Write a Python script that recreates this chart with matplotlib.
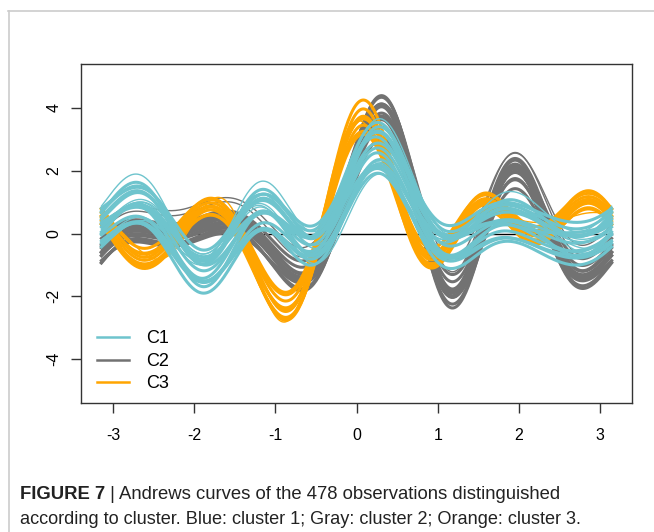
#!/usr/bin/env python3
"""
Andrews curves of the observations, coloured by cluster (Figure 7).
"""

import numpy as np
import matplotlib
matplotlib.use("Agg")
import matplotlib.pyplot as plt
from matplotlib.lines import Line2D

c1_obs = [
    [0.46, 0.22, 0.53, 0.22, 0.63, 0.09, 0.15, 0.80, 0.15, 0.19, 0.22],
    [-0.20, 0.20, 0.50, 0.20, 0.60, 0.08, 0.14, 0.70, 0.14, 0.18, 0.20],
    [0.95, 0.24, 0.56, 0.24, 0.66, 0.10, 0.16, 0.90, 0.16, 0.20, 0.24],
    [0.15, 0.18, 0.45, 0.18, 0.52, 0.07, 0.12, 0.95, 0.12, 0.16, 0.18],
    [0.70, 0.26, 0.62, 0.26, 0.74, 0.11, 0.18, 0.65, 0.18, 0.22, 0.26],
    [-0.45, 0.21, 0.55, 0.22, 0.66, 0.09, 0.15, 0.85, 0.15, 0.19, 0.22],
    [1.30, 0.23, 0.50, 0.21, 0.60, 0.09, 0.15, 0.75, 0.15, 0.19, 0.22],
    [0.55, 0.16, 0.40, 0.16, 0.47, 0.07, 0.11, 0.60, 0.11, 0.14, 0.16],
    [0.30, 0.28, 0.68, 0.28, 0.80, 0.12, 0.19, 1.00, 0.19, 0.24, 0.28],
    [0.05, 0.24, 0.58, 0.20, 0.70, 0.10, 0.17, 0.78, 0.17, 0.21, 0.20],
    [0.85, 0.20, 0.48, 0.24, 0.57, 0.08, 0.13, 0.82, 0.13, 0.17, 0.24],
    [1.10, 0.22, 0.53, 0.22, 0.63, 0.09, 0.15, 1.05, 0.15, 0.19, 0.22],
    [-0.30, 0.19, 0.47, 0.19, 0.56, 0.08, 0.13, 0.72, 0.13, 0.17, 0.19],
    [1.20, 0.25, 0.60, 0.25, 0.71, 0.10, 0.17, 0.88, 0.17, 0.21, 0.25],
]
c1_odd = [
    [0.46, 0.22, 0.11, 0.22, 0.13, 0.09, 0.15, 0.80, 0.15, 0.19, 0.22],
    [0.60, 0.22, 0.19, 0.22, 0.22, 0.09, 0.15, 0.80, 0.15, 0.19, 0.22],
    [0.50, 0.22, 0.27, 0.22, 0.32, 0.09, 0.15, 0.80, 0.15, 0.19, 0.22],
    [0.46, 0.22, 0.53, 0.02, 0.23, 0.09, 0.15, 0.80, 0.15, 0.19, 0.22],
    [0.46, 0.22, 0.53, 0.02, 0.03, 0.09, 0.15, 0.80, 0.15, 0.19, 0.22],
    [1.40, 0.22, 0.53, 0.22, 0.63, 0.09, 0.15, 1.10, 0.15, 0.19, 0.22],
]
c2_obs = [
    [0.30, 0.32, 0.57, 0.38, 0.31, 0.54, 1.13, 1.13, 0.35, 0.10, -0.23],
    [-0.20, 0.29, 0.51, 0.34, 0.28, 0.49, 1.02, 1.02, 0.32, 0.09, -0.21],
    [0.70, 0.35, 0.63, 0.42, 0.34, 0.59, 1.24, 1.24, 0.39, 0.11, -0.25],
    [0.00, 0.37, 0.66, 0.44, 0.36, 0.62, 1.30, 1.30, 0.40, 0.12, -0.26],
    [0.50, 0.37, 0.66, 0.44, 0.36, 0.62, 1.30, 1.30, 0.40, 0.12, -0.26],
    [0.20, 0.34, 0.60, 0.40, 0.33, 0.57, 1.19, 1.19, 0.37, 0.11, -0.24],
    [0.60, 0.30, 0.54, 0.36, 0.29, 0.51, 1.07, 1.07, 0.33, 0.10, -0.22],
    [-0.10, 0.34, 0.60, 0.40, 0.33, 0.57, 1.19, 1.19, 0.37, 0.11, -0.24],
    [0.80, 0.29, 0.51, 0.34, 0.28, 0.49, 1.02, 1.02, 0.32, 0.09, -0.21],
    [0.40, 0.35, 0.63, 0.42, 0.34, 0.59, 1.24, 1.24, 0.39, 0.11, -0.25],
    [0.10, 0.30, 0.54, 0.36, 0.29, 0.51, 1.07, 1.07, 0.33, 0.10, -0.22],
    [0.55, 0.34, 0.60, 0.40, 0.33, 0.57, 1.19, 1.19, 0.37, 0.11, -0.24],
]
c2_odd = [
    [1.20, 0.32, 0.57, 0.38, 0.31, 0.54, 1.13, 1.13, 0.35, 0.10, -0.23],
    [1.40, 0.29, 0.51, 0.34, 0.28, 0.49, 1.02, 1.02, 0.32, 0.09, -0.21],
]
c3_obs = [
    [0.42, 0.53, 0.32, 0.30, 0.65, 0.50, 1.02, -0.20, 1.12, 0.23, 0.18],
    [0.10, 0.48, 0.29, 0.27, 0.59, 0.45, 0.92, -0.18, 1.01, 0.21, 0.16],
    [0.70, 0.58, 0.35, 0.33, 0.72, 0.55, 1.12, -0.22, 1.23, 0.25, 0.20],
    [0.60, 0.50, 0.30, 0.29, 0.62, 0.48, 0.97, -0.19, 1.06, 0.22, 0.17],
    [0.20, 0.56, 0.34, 0.32, 0.68, 0.53, 1.07, -0.21, 1.18, 0.24, 0.19],
    [0.50, 0.45, 0.27, 0.26, 0.55, 0.43, 0.87, -0.17, 0.95, 0.20, 0.15],
    [0.30, 0.58, 0.35, 0.33, 0.72, 0.55, 1.12, -0.22, 1.23, 0.25, 0.20],
    [0.80, 0.48, 0.29, 0.27, 0.59, 0.45, 0.92, -0.18, 1.01, 0.21, 0.16],
    [0.05, 0.53, 0.32, 0.30, 0.65, 0.50, 1.02, -0.20, 1.12, 0.23, 0.18],
]
c3_odd = [
    [0.42, 0.53, 0.32, 0.30, 0.65, 0.50, 1.02, -0.20, 1.12, -0.20, 0.18],
]
# one observation sitting at zero on every variable
zero_obs = [0.0] * 11

labels = ["C1", "C2", "C3"]
colors = ["#6EC4CD", "#727272", "#FFA500"]
xticks = [-3, -2, -1, 0, 1, 2, 3]
yticks = [-4, -2, 0, 2, 4]

caption_bold = "FIGURE 7"
caption_1 = " | Andrews curves of the 478 observations distinguished"
caption_2 = "according to cluster. Blue: cluster 1; Gray: cluster 2; Orange: cluster 3."

plt.rcParams["axes.unicode_minus"] = False
plt.rcParams["font.family"] = ["Liberation Sans", "DejaVu Sans"]


def andrews(obs, t):
    """f(t) = x1/sqrt(2) + x2 sin t + x3 cos t + x4 sin 2t + ..."""
    obs = np.asarray(obs, dtype=float)
    y = np.full_like(t, obs[0] / np.sqrt(2))
    for i, v in enumerate(obs[1:]):
        k = i // 2 + 1
        y += v * (np.sin(k * t) if i % 2 == 0 else np.cos(k * t))
    return y


t = np.linspace(-np.pi, np.pi, 400)

fig = plt.figure(figsize=(6.54, 5.32), dpi=100)
ax = fig.add_axes([81 / 654, 1 - 403 / 532, 551 / 654, 339 / 532])

ax.plot(t, andrews(zero_obs, t), color="black", lw=1.0)
for obs in c2_obs:
    ax.plot(t, andrews(obs, t), color=colors[1], lw=2.2)
for obs in c2_odd:
    ax.plot(t, andrews(obs, t), color=colors[1], lw=1.0)
for obs in c3_obs:
    ax.plot(t, andrews(obs, t), color=colors[2], lw=2.2)
for obs in c3_odd:
    ax.plot(t, andrews(obs, t), color=colors[2], lw=1.0)
for obs in c1_obs:
    ax.plot(t, andrews(obs, t), color=colors[0], lw=2.2)
for obs in c1_odd:
    ax.plot(t, andrews(obs, t), color=colors[0], lw=1.0)

ax.set_xlim(-np.pi * 1.08, np.pi * 1.08)
ax.set_ylim(-5.4, 5.4)
ax.set_xticks(xticks, [str(v) for v in xticks])
ax.set_yticks(yticks, [str(v) for v in yticks])
ax.tick_params(length=7, width=1, labelsize=11.5, color="#333333")
ax.tick_params(axis="x", pad=11)
ax.tick_params(axis="y", pad=7)
for lab in ax.get_yticklabels():
    lab.set_rotation(90)
    lab.set_va("center")
for sp in ax.spines.values():
    sp.set_linewidth(1.0)
    sp.set_color("#333333")

handles = [Line2D([], [], color=c, lw=1.8) for c in colors]
ax.legend(handles, labels, loc="upper left", bbox_to_anchor=(0.029, 0.214),
          frameon=False, fontsize=13, handlelength=1.8, handletextpad=0.9,
          labelspacing=0.3, borderpad=0, borderaxespad=0)

# page frame lines of the original figure
fig.add_artist(Line2D([8 / 654, 1], [1 - 11 / 532, 1 - 11 / 532], color="#cccccc", lw=1.2))
fig.add_artist(Line2D([9 / 654, 9 / 654], [0, 1 - 11 / 532], color="#cccccc", lw=1.2))

# caption
cap_font = ["Liberation Sans Narrow", "Liberation Sans", "DejaVu Sans"]
tb = fig.text(20 / 654, 1 - 499 / 532, caption_bold, fontsize=13.3, fontweight="bold",
              family=cap_font, color="#222222", va="baseline")
fig.canvas.draw()
bb = tb.get_window_extent(fig.canvas.get_renderer())
fig.text(bb.x1 / fig.bbox.width, 1 - 499 / 532, caption_1, fontsize=13.3,
         family=cap_font, color="#222222", va="baseline")
fig.text(20 / 654, 1 - 524 / 532, caption_2, fontsize=13.1,
         family=cap_font, color="#222222", va="baseline")

fig.savefig("out.png", dpi=100)
